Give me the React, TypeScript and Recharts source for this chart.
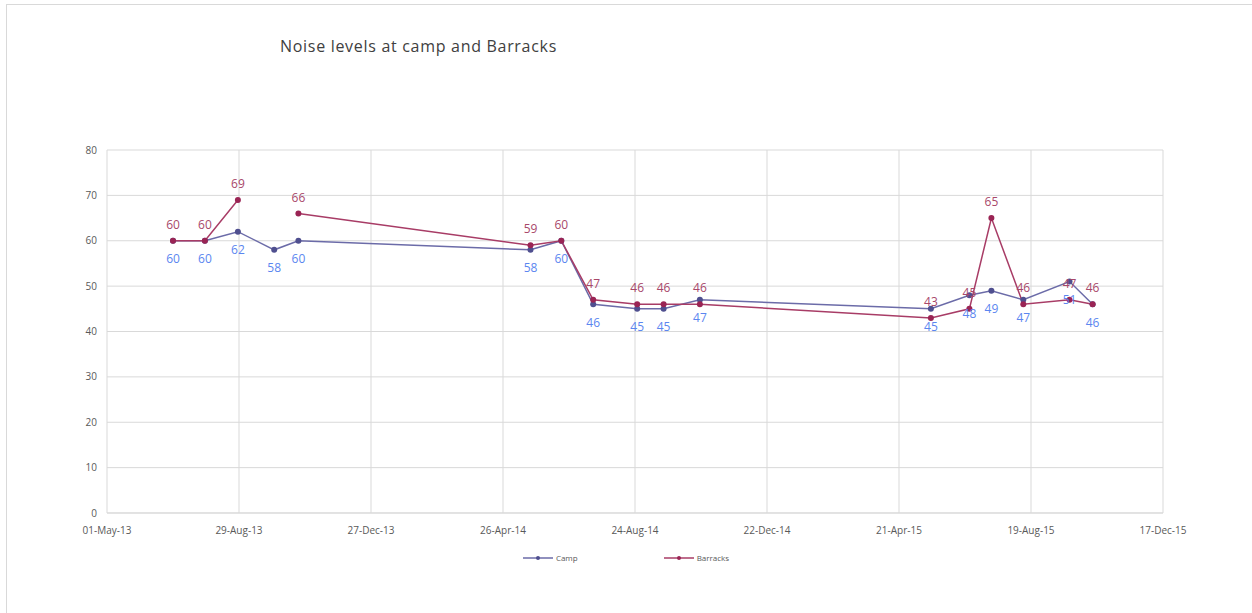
import { LineChart, Line, XAxis, YAxis, CartesianGrid, Legend, LabelList } from 'recharts';

// Survey dates and readings (dB)
const surveyDates = [
  '2013-06-30', '2013-07-29', '2013-08-28', '2013-09-30', '2013-10-22',
  '2014-05-21', '2014-06-18', '2014-07-17', '2014-08-26', '2014-09-19', '2014-10-22',
  '2015-05-20', '2015-06-24', '2015-07-14', '2015-08-12', '2015-09-23', '2015-10-14',
];
const campLevels = [60, 60, 62, 58, 60, 58, 60, 46, 45, 45, 47, 45, 48, 49, 47, 51, 46];
const barracksLevels = [60, 60, 69, null, 66, 59, 60, 47, 46, 46, 46, 43, 45, 65, 46, 47, 46];

const xTickDates = [
  '2013-05-01', '2013-08-29', '2013-12-27', '2014-04-26', '2014-08-24',
  '2014-12-22', '2015-04-21', '2015-08-19', '2015-12-17',
];
const yTicks = [0, 10, 20, 30, 40, 50, 60, 70, 80];

const MONTHS = ['Jan', 'Feb', 'Mar', 'Apr', 'May', 'Jun', 'Jul', 'Aug', 'Sep', 'Oct', 'Nov', 'Dec'];
const toTime = (s: string) => new Date(s + 'T00:00:00Z').getTime();
const fmtDate = (t: number) => {
  const d = new Date(t);
  return `${String(d.getUTCDate()).padStart(2, '0')}-${MONTHS[d.getUTCMonth()]}-${String(d.getUTCFullYear()).slice(2)}`;
};

const rows = surveyDates.map((d, i) => ({
  t: toTime(d),
  camp: campLevels[i],
  barracks: barracksLevels[i],
}));
const xTicks = xTickDates.map(toTime);

const CAMP = '#6b6ba8';
const CAMP_DOT = '#4f4f8f';
const CAMP_LABEL = '#5b86f0';
const BARRACKS = '#a83c66';
const BARRACKS_DOT = '#9a2454';
const BARRACKS_LABEL = '#a8486a';
const FONT = '"Open Sans", Lato, sans-serif';

function LegendItems() {
  const items = [
    { name: 'Camp', line: CAMP, dot: CAMP_DOT },
    { name: 'Barracks', line: BARRACKS, dot: BARRACKS_DOT },
  ];
  return (
    <div style={{ display: 'flex', justifyContent: 'center', gap: 86, paddingLeft: 22, fontFamily: FONT, fontSize: 8, color: '#595959' }}>
      {items.map(it => (
        <div key={it.name} style={{ display: 'flex', alignItems: 'center', gap: 3 }}>
          <svg width={30} height={8}>
            <line x1={0} y1={4} x2={30} y2={4} stroke={it.line} strokeWidth={1.5} />
            <circle cx={15} cy={4} r={2} fill={it.dot} />
          </svg>
          <span>{it.name}</span>
        </div>
      ))}
    </div>
  );
}

export default function App() {
  return (
    <div style={{ position: 'absolute', left: 0, top: 0, width: 1252, height: 613, background: '#fff', overflow: 'hidden' }}>
      {/* chart frame */}
      <div style={{ position: 'absolute', left: 6, top: 4, width: 1260, height: 620, border: '1px solid #d9d9d9' }} />
      <div style={{ position: 'absolute', left: 280, top: 35, fontFamily: FONT, fontSize: 16, letterSpacing: 0.7, color: '#404040' }}>
        Noise levels at camp and Barracks
      </div>
      <LineChart
        width={1252}
        height={613}
        data={rows}
        margin={{ top: 150, right: 89, bottom: 59, left: 67 }}
        style={{ position: 'absolute', left: 0, top: 0 }}
      >
        <CartesianGrid stroke="#d9d9d9" />
        <XAxis
          dataKey="t"
          type="number"
          scale="time"
          domain={[xTicks[0], xTicks[xTicks.length - 1]]}
          ticks={xTicks}
          tickFormatter={fmtDate}
          tickLine={false}
          axisLine={{ stroke: '#d9d9d9' }}
          tick={{ fontSize: 10, fill: '#595959', fontFamily: FONT }}
          tickMargin={8}
          height={30}
        />
        <YAxis
          domain={[0, 80]}
          ticks={yTicks}
          tickLine={false}
          axisLine={false}
          tick={{ fontSize: 10, fill: '#595959', fontFamily: FONT }}
          width={40}
          tickMargin={4}
        />
        <Legend verticalAlign="bottom" content={<LegendItems />} wrapperStyle={{ bottom: 50 }} />
        <Line
          dataKey="camp"
          name="Camp"
          stroke={CAMP}
          strokeWidth={1.5}
          dot={{ r: 3, fill: CAMP_DOT, stroke: CAMP_DOT, strokeWidth: 0 }}
          isAnimationActive={false}
        >
          <LabelList dataKey="camp" position="bottom" offset={14} fontSize={12} fill={CAMP_LABEL} fontFamily={FONT} />
        </Line>
        <Line
          dataKey="barracks"
          name="Barracks"
          stroke={BARRACKS}
          strokeWidth={1.5}
          connectNulls={false}
          dot={{ r: 3, fill: BARRACKS_DOT, stroke: BARRACKS_DOT, strokeWidth: 0 }}
          isAnimationActive={false}
        >
          <LabelList dataKey="barracks" position="top" offset={12} fontSize={12} fill={BARRACKS_LABEL} fontFamily={FONT} />
        </Line>
      </LineChart>
    </div>
  );
}
